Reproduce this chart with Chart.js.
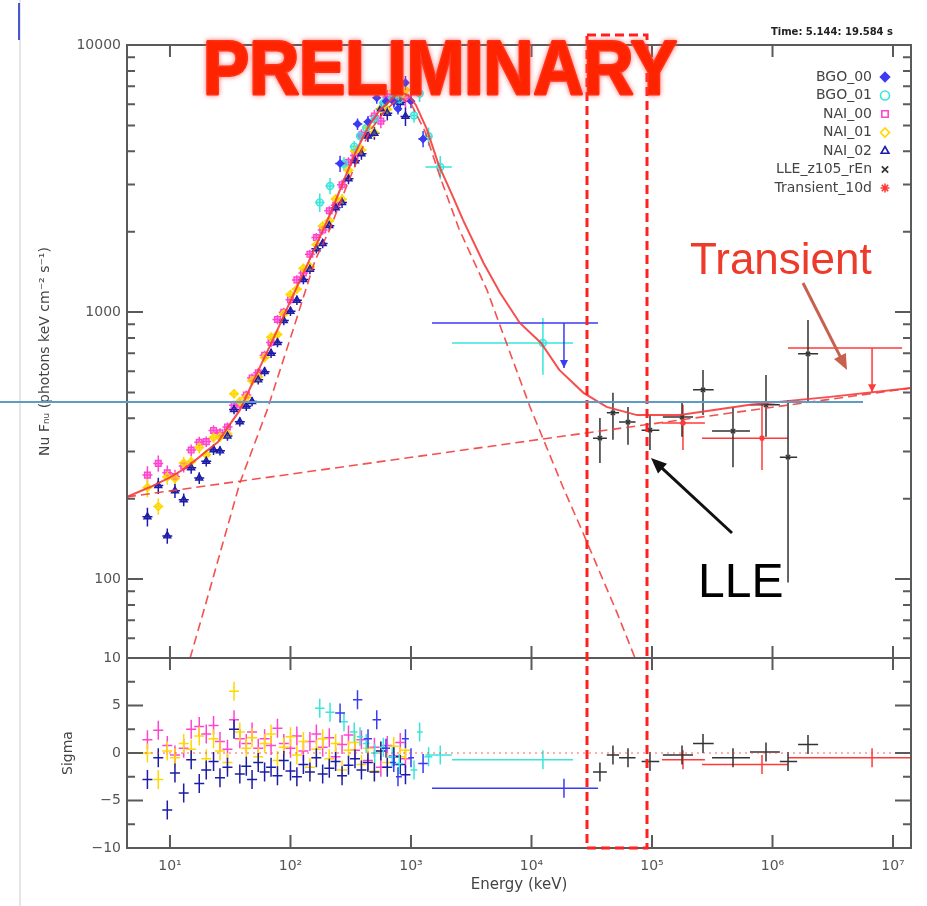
<!DOCTYPE html>
<html>
<head>
<meta charset="utf-8">
<title>Spectrum</title>
<script src="https://cdn.jsdelivr.net/npm/chart.js@4.4.0/dist/chart.umd.min.js"></script>
<style>
  html, body { margin: 0; padding: 0; background: #fff; }
  canvas { display: block; }
</style>
</head>
<body>
<canvas id="spectrum" width="927" height="906"></canvas>
<script>
var detectorNames = ["BGO_00", "BGO_01", "NAI_00", "NAI_01", "NAI_02", "LLE_z105_rEn", "Transient_10d"];

var energyMin = 4.4, energyMax = 1.41e7;
var fluxMin = 50.6, fluxMax = 10000;
var sigmaMin = -10, sigmaMax = 10;

// NaI detectors (keV, photons keV cm-2 s-1)
var naiEnergy = [6.5, 8, 9.5, 11, 13, 15, 17.5, 20, 23, 26, 30, 34, 38, 43, 48, 54, 61, 69, 78, 88, 100, 113, 128, 145, 164, 185, 210, 237, 268, 303, 343, 388, 439, 497, 562, 636, 720, 815, 900];
var naiRelErr = [0.08, 0.07, 0.065, 0.06, 0.055, 0.05, 0.05, 0.045, 0.045, 0.04, 0.04, 0.04, 0.04, 0.04, 0.04, 0.04, 0.04, 0.04, 0.04, 0.04, 0.04, 0.04, 0.04, 0.04, 0.04, 0.04, 0.04, 0.04, 0.045, 0.045, 0.05, 0.05, 0.05, 0.055, 0.06, 0.06, 0.065, 0.07, 0.08];
var naiBinFactor = 1.1;
var nai00Flux = [245, 271, 250, 242, 265, 304, 325, 327, 360, 353, 371, 447, 451, 489, 566, 592, 689, 769, 938, 998, 1112, 1319, 1401, 1645, 1901, 2028, 2394, 2509, 2997, 3636, 3857, 4601, 4608, 5423, 5187, 6393, 6324, 7162, 6302];
var nai00Sigma = [1.4, 2.4, 0.8, -0.2, 0.5, 2.5, 2.8, 2.0, 2.9, 1.2, 0.4, 3.5, 1.5, 1.0, 2.2, 0.5, 1.5, 0.8, 2.6, 1.0, 0.5, 1.8, 0.2, 1.2, 2.0, 0.6, 1.6, -0.4, 0.9, 1.9, 0.3, 1.4, -0.8, 0.6, -1.5, 0.8, -0.3, 1.1, -0.6];
var nai01Flux = [220, 187, 241, 238, 272, 275, 311, 292, 339, 340, 350, 494, 462, 479, 553, 571, 676, 805, 823, 983, 1164, 1220, 1457, 1476, 1788, 2099, 2196, 2652, 2647, 3395, 4009, 4042, 4920, 4701, 5768, 5734, 6743, 6464, 6779];
var nai01Sigma = [0.0, -2.8, 0.2, -0.5, 1.0, 0.4, 1.8, -0.6, 1.5, 0.2, -1.0, 6.5, 2.2, 0.5, 1.6, -0.4, 1.0, 2.0, -0.8, 0.6, 1.7, -0.2, 1.2, -1.5, 0.4, 1.5, -0.6, 1.0, -1.8, 0.3, 1.1, -1.2, 0.5, -1.9, 0.2, -1.0, 0.7, -0.4, 0.3];
var nai02Flux = [171, 224, 145, 214, 198, 261, 239, 276, 305, 302, 343, 431, 388, 444, 462, 557, 598, 700, 768, 929, 1007, 1107, 1323, 1444, 1725, 1806, 2106, 2458, 2569, 3154, 3686, 3913, 4560, 4673, 5768, 5551, 6282, 6091, 5402];
var nai02Sigma = [-2.8, -0.5, -6.0, -2.1, -4.2, -0.7, -3.2, -1.8, -0.9, -2.6, -1.5, 2.5, -2.2, -1.4, -2.8, -1.0, -2.0, -1.5, -2.4, -0.8, -1.9, -2.5, -1.2, -2.0, -0.5, -2.2, -1.6, -0.9, -2.4, -1.3, -0.6, -1.8, -1.0, -2.0, 0.2, -1.5, -0.4, -1.2, -2.3];

// BGO detectors
var bgo00Energy = [258, 360, 440, 520, 620, 720, 780, 900, 1000, 1260];
var bgo00Lo = [235, 330, 405, 480, 575, 670, 750, 840, 950, 1150];
var bgo00Hi = [283, 395, 475, 565, 670, 750, 840, 960, 1060, 1380];
var bgo00Flux = [3597, 5056, 5160, 6345, 6150, 6128, 5775, 7216, 6160, 4450];
var bgo00RelErr = [0.07, 0.05, 0.05, 0.05, 0.05, 0.05, 0.05, 0.06, 0.06, 0.07];
var bgo00Sigma = [4.2, 5.6, 1.5, 3.5, 0.5, -1.0, -2.5, 1.5, -0.5, -1.1];
var bgo00UlEnergy = [18600], bgo00UlLo = [1493], bgo00UlHi = [35650];
var bgo00UlFlux = [910], bgo00UlArrow = [617], bgo00UlSigma = [-3.7];

var bgo01Energy = [175, 213, 278, 338, 378, 425, 500, 590, 700, 800, 1060, 1180, 1400, 1750, 12440];
var bgo01Lo = [160, 195, 255, 310, 355, 400, 465, 545, 650, 750, 990, 1120, 1290, 1320, 2188];
var bgo01Hi = [192, 232, 300, 360, 400, 452, 540, 640, 750, 860, 1130, 1250, 1500, 2180, 22100];
var bgo01Flux = [2573, 2966, 3594, 4163, 4557, 4883, 5270, 6056, 6272, 6256, 5441, 6578, 4550, 3493, 766];
var bgo01RelErr = [0.08, 0.07, 0.06, 0.05, 0.05, 0.05, 0.05, 0.05, 0.05, 0.05, 0.06, 0.07, 0.08, 0.1, 0.24];
var bgo01Sigma = [4.7, 4.3, 3.3, 2.2, 1.7, 1.0, 0.0, 0.6, -0.4, -1.1, -1.8, 2.2, -0.4, -0.2, -0.7];

// LLE
var lleEnergy = [36980, 47420, 63200, 96200, 177400, 265000, 470000, 883000, 1345000, 1970000];
var lleLo = [32400, 42200, 53300, 82000, 123000, 219000, 315000, 650000, 1150000, 1630000];
var lleHi = [42200, 53300, 73000, 115000, 219000, 325000, 650000, 1150000, 1600000, 2390000];
var lleFlux = [337, 419, 387, 361, 404, 511, 358, 449, 286, 697];
var lleFluxLo = [272, 332, 318, 304, 341, 411, 262, 341, 97, 456];
var lleFluxHi = [401, 498, 441, 411, 460, 607, 441, 581, 468, 933];
var lleSigma = [-2.0, -0.2, -0.5, -0.9, -0.2, 1.0, -0.5, 0.1, -0.9, 0.9];

// Transient class
var trEnergy = [180700, 818000];
var trLo = [121000, 260000];
var trHi = [275000, 1345000];
var trFlux = [384, 337];
var trFluxLo = [304, 256];
var trFluxHi = [449, 456];
var trSigma = [-0.7, -1.2];
var trUlEnergy = [6700000], trUlLo = [1345000], trUlHi = [11900000];
var trUlFlux = [733], trUlArrow = [501], trUlSigma = [-0.5];

// model curves
var totalEnergy = [4.4, 7, 10, 13, 17, 20, 25, 30, 38, 50, 65, 80, 100, 130, 170, 220, 280, 350, 450, 550, 650, 800, 950, 1100, 1350, 1700, 2200, 2700, 4000, 5500, 8000, 12000, 17000, 27000, 42000, 75000, 170000, 650000, 3000000, 14100000];
var totalFlux = [203, 222, 240, 258, 283, 301, 326, 368, 429, 560, 720, 880, 1100, 1420, 1850, 2400, 3150, 4000, 5000, 5700, 6100, 6650, 6500, 5950, 4850, 3550, 2740, 2212, 1527, 1178, 910, 766, 607, 498, 441, 411, 411, 449, 481, 519];
var bandEnergy = [14.7, 20, 38, 64, 105, 160, 213, 300, 450, 600, 800, 1000, 1300, 1750, 2500, 4276, 5272, 9724, 18240, 26740, 51290, 72300];
var bandFlux = [50.6, 82, 229, 429, 857, 1560, 2050, 3050, 4730, 5620, 6370, 6030, 4770, 3190, 2050, 1208, 933, 441, 221, 149, 74.7, 50.6];
var plEnergy = [4.4, 100, 10000, 1000000, 14100000];
var plFlux = [203, 247, 330, 440, 519];

var supDigits = { 1: "\u00b9", 2: "\u00b2", 3: "\u00b3", 4: "\u2074", 5: "\u2075", 6: "\u2076", 7: "\u2077" };

function isDecade(v) {
    var l = Math.log10(v);
    return Math.abs(l - Math.round(l)) < 1e-6;
}
function isNiceLog(v) {
    var m = v / Math.pow(10, Math.floor(Math.log10(v) + 1e-9));
    return Math.abs(m - Math.round(m)) < 1e-6;
}

function binned(energy, lo, hi, flux, fLo, fHi) {
    return energy.map(function (e, i) {
        return { x: e, y: flux[i], xMin: lo[i], xMax: hi[i], yMin: fLo[i], yMax: fHi[i] };
    });
}
function relBinned(energy, lo, hi, flux, relErr) {
    return energy.map(function (e, i) {
        return { x: e, y: flux[i], xMin: lo[i], xMax: hi[i],
                 yMin: flux[i] * (1 - relErr[i]), yMax: flux[i] * (1 + relErr[i]) };
    });
}
function upperLimits(energy, lo, hi, flux, arrow) {
    return energy.map(function (e, i) {
        return { x: e, y: flux[i], xMin: lo[i], xMax: hi[i], yMin: arrow[i], yMax: flux[i], ul: true };
    });
}
function residuals(energy, lo, hi, sigma) {
    return energy.map(function (e, i) {
        return { x: e, y: sigma[i], xMin: lo[i], xMax: hi[i], yMin: sigma[i] - 1, yMax: sigma[i] + 1 };
    });
}
function curve(energy, flux) {
    return energy.map(function (e, i) { return { x: e, y: flux[i] }; });
}

var naiLo = naiEnergy.map(function (e) { return e / naiBinFactor; });
var naiHi = naiEnergy.map(function (e) { return e * naiBinFactor; });

function modelLine(data, dash, width) {
    return {
        data: data, yAxisID: "y", showLine: true, pointRadius: 0, borderColor: "rgba(245,60,60,0.9)",
        borderWidth: width, borderDash: dash, fill: false
    };
}
function markers(label, data, color, style, fill, radius) {
    return {
        label: label, data: data, yAxisID: "y", errorBars: true, barColor: color,
        borderColor: color, backgroundColor: fill, pointStyle: style, pointRadius: radius,
        pointBorderWidth: 1.4
    };
}
function resid(data, color) {
    return { data: data, yAxisID: "ySig", errorBars: true, barColor: color, pointRadius: 0 };
}

var colBgo00 = "#3b3bf5", colBgo01 = "#38e6dc", colNai00 = "#ff45cf", colNai01 = "#ffd800", colNai02 = "#1c1ca8";
var colLle = "#333333", colTr = "#ff3a3a";

var datasets = [
    modelLine(curve(totalEnergy, totalFlux), [], 2),
    modelLine(curve(bandEnergy, bandFlux), [9, 5], 1.6),
    modelLine(curve(plEnergy, plFlux), [9, 5], 1.6),
    {
        data: curve([energyMin, energyMax], [0, 0]), yAxisID: "ySig", showLine: true, pointRadius: 0,
        borderColor: "rgba(245,60,60,0.8)", borderWidth: 1.2, borderDash: [2, 4]
    },
    markers("LLE_z105_rEn", binned(lleEnergy, lleLo, lleHi, lleFlux, lleFluxLo, lleFluxHi), colLle, "crossRot", "rgba(0,0,0,0)", 3),
    resid(residuals(lleEnergy, lleLo, lleHi, lleSigma), colLle),
    markers("Transient_10d", binned(trEnergy, trLo, trHi, trFlux, trFluxLo, trFluxHi), colTr, "star", "rgba(0,0,0,0)", 3),
    resid(residuals(trEnergy, trLo, trHi, trSigma), colTr),
    { data: upperLimits(trUlEnergy, trUlLo, trUlHi, trUlFlux, trUlArrow), yAxisID: "y", errorBars: true, barColor: colTr, pointRadius: 0 },
    resid(residuals(trUlEnergy, trUlLo, [energyMax], trUlSigma), colTr),
    markers("BGO_00", relBinned(bgo00Energy, bgo00Lo, bgo00Hi, bgo00Flux, bgo00RelErr), colBgo00, "rectRot", colBgo00, 3.5),
    resid(residuals(bgo00Energy, bgo00Lo, bgo00Hi, bgo00Sigma), colBgo00),
    { data: upperLimits(bgo00UlEnergy, bgo00UlLo, bgo00UlHi, bgo00UlFlux, bgo00UlArrow), yAxisID: "y", errorBars: true, barColor: colBgo00, pointRadius: 0 },
    resid(residuals(bgo00UlEnergy, bgo00UlLo, bgo00UlHi, bgo00UlSigma), colBgo00),
    markers("BGO_01", relBinned(bgo01Energy, bgo01Lo, bgo01Hi, bgo01Flux, bgo01RelErr), colBgo01, "circle", "rgba(56,230,220,0.4)", 3.5),
    resid(residuals(bgo01Energy, bgo01Lo, bgo01Hi, bgo01Sigma), colBgo01),
    markers("NAI_02", relBinned(naiEnergy, naiLo, naiHi, nai02Flux, naiRelErr), colNai02, "triangle", "rgba(28,28,168,0.5)", 4),
    resid(residuals(naiEnergy, naiLo, naiHi, nai02Sigma), colNai02),
    markers("NAI_01", relBinned(naiEnergy, naiLo, naiHi, nai01Flux, naiRelErr), colNai01, "rectRot", "rgba(255,216,0,0.5)", 4),
    resid(residuals(naiEnergy, naiLo, naiHi, nai01Sigma), colNai01),
    markers("NAI_00", relBinned(naiEnergy, naiLo, naiHi, nai00Flux, naiRelErr), colNai00, "rect", "rgba(255,69,207,0.45)", 4),
    resid(residuals(naiEnergy, naiLo, naiHi, nai00Sigma), colNai00)
];

var errorBars = {
    id: "errorBars",
    beforeDatasetsDraw: function (chart) {
        var ctx = chart.ctx, xs = chart.scales.x;
        for (var i = chart.data.datasets.length - 1; i >= 0; i--) {
            var ds = chart.data.datasets[i];
            if (!ds.errorBars) continue;
            var ys = chart.scales[ds.yAxisID];
            ctx.save();
            ctx.beginPath();
            ctx.rect(xs.left, ys.top, xs.right - xs.left, ys.bottom - ys.top);
            ctx.clip();
            ctx.strokeStyle = ds.barColor;
            ctx.fillStyle = ds.barColor;
            ctx.lineWidth = 1.5;
            ds.data.forEach(function (p) {
                var px = xs.getPixelForValue(p.x), py = ys.getPixelForValue(p.y);
                var pyLo = ys.getPixelForValue(p.yMin), pyHi = ys.getPixelForValue(p.yMax);
                ctx.beginPath();
                ctx.moveTo(xs.getPixelForValue(p.xMin), py);
                ctx.lineTo(xs.getPixelForValue(p.xMax), py);
                ctx.moveTo(px, pyLo);
                ctx.lineTo(px, pyHi);
                ctx.stroke();
                if (p.ul) {
                    ctx.beginPath();
                    ctx.moveTo(px - 4, pyLo - 8);
                    ctx.lineTo(px + 4, pyLo - 8);
                    ctx.lineTo(px, pyLo);
                    ctx.closePath();
                    ctx.fill();
                }
            });
            ctx.restore();
        }
    }
};

var frame = {
    id: "frame",
    afterDatasetsDraw: function (chart) {
        var ctx = chart.ctx, x = chart.scales.x, y = chart.scales.y, ySig = chart.scales.ySig;
        var L = x.left, R = x.right, T = y.top, M = y.bottom, B = ySig.bottom;
        function seg(x1, y1, x2, y2) { ctx.moveTo(x1, y1); ctx.lineTo(x2, y2); }
        ctx.save();
        ctx.strokeStyle = "#5a5a5a";
        ctx.lineWidth = 2;
        ctx.beginPath();
        ctx.rect(L, T, R - L, B - T);
        seg(L, M, R, M);
        x.ticks.forEach(function (t) {
            if (!isDecade(t.value)) return;
            var px = x.getPixelForValue(t.value);
            seg(px, T, px, T + 12);
            seg(px, M - 12, px, M + 12);
            seg(px, B, px, B - 13);
        });
        y.ticks.forEach(function (t) {
            if (!isNiceLog(t.value)) return;
            var py = y.getPixelForValue(t.value), len = isDecade(t.value) ? 16 : 8;
            seg(L, py, L + len, py);
            seg(R, py, R - len, py);
        });
        ySig.ticks.forEach(function (t) {
            var py = ySig.getPixelForValue(t.value), len = t.value % 5 === 0 ? 16 : 8;
            seg(L, py, L + len, py);
            seg(R, py, R - len, py);
        });
        ctx.stroke();
        ctx.restore();
    }
};

var legendBox = {
    id: "legendBox",
    afterDraw: function (chart) {
        var ctx = chart.ctx;
        ctx.save();
        ctx.font = "14px 'DejaVu Sans'";
        ctx.textAlign = "right";
        ctx.textBaseline = "middle";
        detectorNames.forEach(function (name, i) {
            var ds = chart.data.datasets.find(function (d) { return d.label === name; });
            var yy = 77 + i * 18.5;
            ctx.fillStyle = "#444";
            ctx.fillText(name, 872, yy);
            ctx.strokeStyle = ds.borderColor;
            ctx.fillStyle = name === "BGO_00" || name === "Transient_10d" ? ds.borderColor : "rgba(0,0,0,0)";
            ctx.lineWidth = 1.6;
            Chart.helpers.drawPoint(ctx, { pointStyle: ds.pointStyle, radius: 4.5, borderWidth: 1.6, rotation: 0 }, 885, yy);
        });
        ctx.restore();
    }
};

function arrow(ctx, x1, y1, x2, y2, color, width, head) {
    var a = Math.atan2(y2 - y1, x2 - x1);
    ctx.strokeStyle = color;
    ctx.fillStyle = color;
    ctx.lineWidth = width;
    ctx.beginPath();
    ctx.moveTo(x1, y1);
    ctx.lineTo(x2 - Math.cos(a) * head * 0.6, y2 - Math.sin(a) * head * 0.6);
    ctx.stroke();
    ctx.beginPath();
    ctx.moveTo(x2, y2);
    ctx.lineTo(x2 - head * Math.cos(a - 0.4), y2 - head * Math.sin(a - 0.4));
    ctx.lineTo(x2 - head * Math.cos(a + 0.4), y2 - head * Math.sin(a + 0.4));
    ctx.closePath();
    ctx.fill();
}

var decorations = {
    id: "decorations",
    afterDraw: function (chart) {
        var ctx = chart.ctx;
        ctx.save();
        // edge of the slide
        ctx.fillStyle = "#e6e6e6";
        ctx.fillRect(19, 0, 2, 906);
        ctx.fillStyle = "#4a55d0";
        ctx.fillRect(18, 3, 2, 37);

        ctx.fillStyle = "#222";
        ctx.font = "bold 10px 'DejaVu Sans'";
        ctx.textAlign = "right";
        ctx.textBaseline = "middle";
        ctx.fillText("Time: 5.144: 19.584 s", 893, 32);

        // highlighted LLE window
        ctx.strokeStyle = "#ff2020";
        ctx.lineWidth = 3;
        ctx.setLineDash([9, 5]);
        ctx.strokeRect(587, 35, 60, 813);
        ctx.setLineDash([]);

        // reference level
        ctx.strokeStyle = "#5f9cc4";
        ctx.lineWidth = 2;
        ctx.beginPath();
        ctx.moveTo(0, 402);
        ctx.lineTo(863, 402);
        ctx.stroke();

        ctx.font = "44px 'Liberation Sans'";
        ctx.textAlign = "left";
        ctx.textBaseline = "alphabetic";
        ctx.fillStyle = "#ee3a2a";
        ctx.fillText("Transient", 690, 274);
        ctx.fillStyle = "#000";
        ctx.font = "48px 'Liberation Sans'";
        ctx.fillText("LLE", 698, 597);

        arrow(ctx, 732, 533, 651, 458, "#111", 3, 17);
        arrow(ctx, 803, 283, 847, 370, "#c9604f", 3, 17);

        ctx.font = "bold 76px 'Liberation Sans'";
        var w = ctx.measureText("PRELIMINARY").width;
        ctx.translate(440, 94);
        ctx.scale(474 / w, 1);
        ctx.textAlign = "center";
        ctx.shadowColor = "rgba(255,90,90,0.7)";
        ctx.shadowBlur = 5;
        ctx.fillStyle = "#ff2400";
        ctx.strokeStyle = "#ff2400";
        ctx.lineWidth = 3;
        ctx.lineJoin = "round";
        ctx.strokeText("PRELIMINARY", 0, 0);
        ctx.fillText("PRELIMINARY", 0, 0);
        ctx.restore();
    }
};

var tickFont = { family: "DejaVu Sans", size: 14 };

var spectrumChart = new Chart(document.getElementById("spectrum"), {
    type: "scatter",
    data: { datasets: datasets },
    options: {
        responsive: false,
        animation: false,
        events: [],
        layout: { padding: { top: 45, right: 16, bottom: 0, left: 0 } },
        plugins: { legend: { display: false }, tooltip: { enabled: false } },
        scales: {
            x: {
                type: "logarithmic",
                position: "bottom",
                min: energyMin,
                max: energyMax,
                grid: { display: false, drawTicks: false },
                border: { display: false },
                ticks: {
                    autoSkip: false,
                    maxRotation: 0,
                    padding: 10,
                    color: "#555",
                    font: tickFont,
                    callback: function (v) {
                        return isDecade(v) ? "10" + supDigits[Math.round(Math.log10(v))] : "";
                    }
                },
                title: {
                    display: true,
                    text: "Energy (keV)",
                    color: "#444",
                    font: { family: "DejaVu Sans", size: 15 },
                    padding: { top: 0, bottom: 12 }
                },
                afterFit: function (scale) { scale.height = 58; }
            },
            ySig: {
                type: "linear",
                position: "left",
                stack: "panels",
                stackWeight: 190,
                min: sigmaMin,
                max: sigmaMax,
                grid: { display: false, drawTicks: false },
                border: { display: false },
                ticks: {
                    autoSkip: false,
                    stepSize: 2.5,
                    padding: 6,
                    color: "#555",
                    font: tickFont,
                    callback: function (v) {
                        if (v % 5 !== 0) return "";
                        return v < 0 ? "\u2212" + (-v) : String(v);
                    }
                },
                title: {
                    display: true,
                    text: "Sigma",
                    color: "#444",
                    font: { family: "DejaVu Sans", size: 14 },
                    padding: { top: 60, bottom: 0 }
                },
                afterFit: function (scale) { scale.width = 127; }
            },
            y: {
                type: "logarithmic",
                position: "left",
                stack: "panels",
                stackWeight: 613,
                min: fluxMin,
                max: fluxMax,
                grid: { display: false, drawTicks: false },
                border: { display: false },
                ticks: {
                    autoSkip: false,
                    padding: 6,
                    color: "#555",
                    font: tickFont,
                    callback: function (v) { return isDecade(v) ? String(Math.round(v)) : ""; }
                },
                title: {
                    display: true,
                    text: "Nu F\u2099\u1d64 (photons keV cm\u207b\u00b2 s\u207b\u00b9)",
                    color: "#444",
                    font: { family: "DejaVu Sans", size: 14 },
                    padding: { top: 37, bottom: 0 }
                },
                afterFit: function (scale) { scale.width = 127; }
            }
        }
    },
    plugins: [errorBars, frame, legendBox, decorations]
});
</script>
</body>
</html>
